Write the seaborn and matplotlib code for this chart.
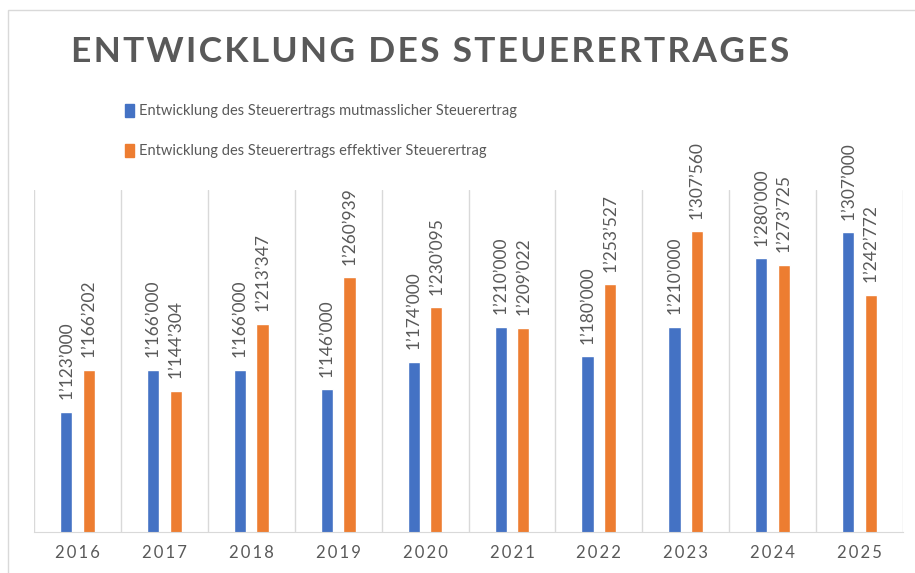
import pandas as pd
import matplotlib.pyplot as plt
import matplotlib.patches as mpatches
import seaborn as sns

years = ['2016', '2017', '2018', '2019', '2020', '2021', '2022', '2023', '2024', '2025']
mutmasslich = [1123000, 1166000, 1166000, 1146000, 1174000, 1210000, 1180000, 1210000, 1280000, 1307000]
effektiv = [1166202, 1144304, 1213347, 1260939, 1230095, 1209022, 1253527, 1307560, 1273725, 1242772]
series = ['Entwicklung des Steuerertrags mutmasslicher Steuerertrag',
          'Entwicklung des Steuerertrags effektiver Steuerertrag']

df = pd.DataFrame({
    'Jahr': years * 2,
    'Wert': mutmasslich + effektiv,
    'Serie': [series[0]] * len(years) + [series[1]] * len(years),
})

sns.set_style('white')
plt.rcParams['font.family'] = ['Lato', 'DejaVu Sans']
grey = '#595959'

fig = plt.figure(figsize=(9.15, 5.73), dpi=100)
ax = fig.add_axes([34 / 915, 1 - 532 / 573, 869 / 915, 342 / 573])

sns.barplot(data=df, x='Jahr', y='Wert', hue='Serie', palette=['#4472C4', '#ED7D31'],
            width=0.52, gap=0.46, saturation=1, ax=ax, legend=False)

for cont in ax.containers:
    ax.bar_label(cont, labels=[f"{v:,.0f}".replace(',', '\u2019') for v in cont.datavalues],
                 rotation=90, padding=9, color=grey, fontsize=12.5)

ax.set_ylim(1000000, 1350000)
ax.set_xlim(-0.5, len(years) - 0.5)
ax.set_yticks([])
ax.set_xlabel('')
ax.set_ylabel('')
for b in [i - 0.5 for i in range(len(years) + 1)]:
    ax.axvline(b, color='#D9D9D9', lw=1, zorder=0)
for s in ['top', 'left', 'right']:
    ax.spines[s].set_visible(False)
ax.spines['bottom'].set_color('#D9D9D9')
ax.tick_params(axis='x', length=0, pad=9)
ax.set_xticks(range(len(years)))
ax.set_xticklabels(['\u2009'.join(y) for y in years], color=grey, fontsize=12)

title = 'ENTWICKLUNG DES STEUERERTRAGES'
fig.text(430 / 915, 1 - 52 / 573, '\u200a'.join(title), ha='center', va='center',
         fontsize=25.5, fontweight='bold', color=grey)

handles = [mpatches.Patch(color=c) for c in ['#4472C4', '#ED7D31']]
fig.legend(handles, series, loc='upper left', bbox_to_anchor=(112 / 915, 1 - 91 / 573),
           frameon=False, labelcolor=grey, handlelength=0.6, handleheight=0.95,
           handletextpad=0.35, labelspacing=1.75, fontsize=10.5)

fig.patches.append(mpatches.Rectangle((8 / 915, -0.05), 1.0, 1 - 10 / 573 + 0.05,
                                      transform=fig.transFigure, fill=False,
                                      edgecolor='#D9D9D9', lw=1))

plt.savefig('out.png', dpi=100)
